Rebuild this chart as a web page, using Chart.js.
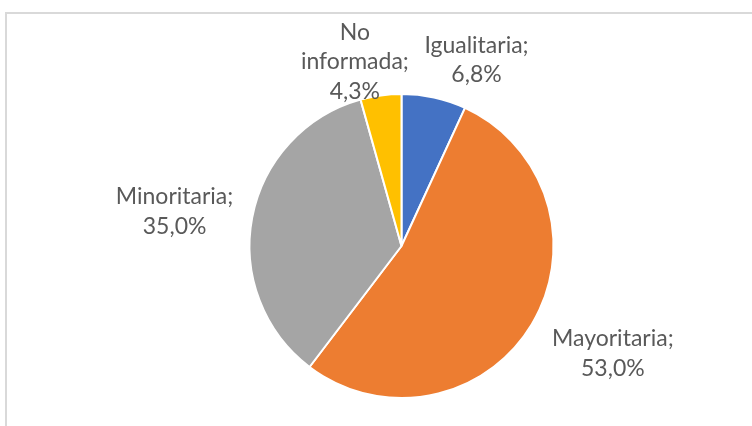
<!DOCTYPE html>
<html>
<head>
<meta charset="utf-8">
<script src="https://cdn.jsdelivr.net/npm/chart.js@4"></script>
<style>
    html, body { margin: 0; padding: 0; background: #fff; }
    #wrap { position: relative; width: 752px; height: 426px; overflow: hidden; }
    #frame { position: absolute; left: 5px; top: 12px; right: -10px; bottom: -10px;
        border-top: 2px solid #d9d9d9; border-left: 2px solid #d9d9d9; }
    #pie { position: absolute; left: 0; top: 0; }
</style>
</head>
<body>
<div id="wrap">
    <div id="frame"></div>
    <canvas id="pie" width="752" height="426"></canvas>
</div>
<script>
const categories = ['Igualitaria', 'Mayoritaria', 'Minoritaria', 'No informada'];
const shares = [6.8, 53.0, 35.0, 4.3];
const sliceColors = ['#4472C4', '#ED7D31', '#A5A5A5', '#FFC000'];

// label layout (best-fit placement like the office chart): distance as a
// multiple of the radius and a small turn in degrees from the slice middle
const labelDist = [1.32, 1.56, 1.51, 1.25];
const labelTurn = [9.6, -4, -2.2, -6.4];
const labelLines = [['Igualitaria;'], ['Mayoritaria;'], ['Minoritaria;'], ['No', 'informada;']];

const labelPlugin = {
    id: 'outsideLabels',
    afterDatasetsDraw(chart) {
        const ctx = chart.ctx;
        const meta = chart.getDatasetMeta(0);
        ctx.save();
        ctx.font = '23px Lato';
        ctx.fillStyle = '#595959';
        ctx.textAlign = 'center';
        ctx.textBaseline = 'middle';
        const lineH = 29.5;
        meta.data.forEach(function (arc, i) {
            const p = arc.getProps(['x', 'y', 'startAngle', 'endAngle', 'outerRadius'], true);
            const a = (p.startAngle + p.endAngle) / 2 + labelTurn[i] * Math.PI / 180;
            const d = p.outerRadius * labelDist[i];
            const cx = p.x + Math.cos(a) * d,
                cy = p.y + Math.sin(a) * d;
            const lines = labelLines[i].concat([shares[i].toFixed(1).replace('.', ',') + '%']);
            const top = cy - (lines.length - 1) * lineH / 2;
            lines.forEach(function (t, k) {
                ctx.fillText(t, cx, top + k * lineH);
            });
        });
        ctx.restore();
    }
};

const pieCtx = document.getElementById('pie').getContext('2d');
new Chart(pieCtx, {
    type: 'pie',
    data: {
        labels: categories,
        datasets: [{
            data: shares,
            backgroundColor: sliceColors,
            borderColor: '#ffffff',
            borderWidth: 2
        }]
    },
    options: {
        responsive: false,
        animation: false,
        layout: { padding: { top: 93, bottom: 27, left: 248.5, right: 197.5 } },
        plugins: {
            legend: { display: false },
            tooltip: { enabled: false }
        }
    },
    plugins: [labelPlugin]
});
</script>
</body>
</html>
